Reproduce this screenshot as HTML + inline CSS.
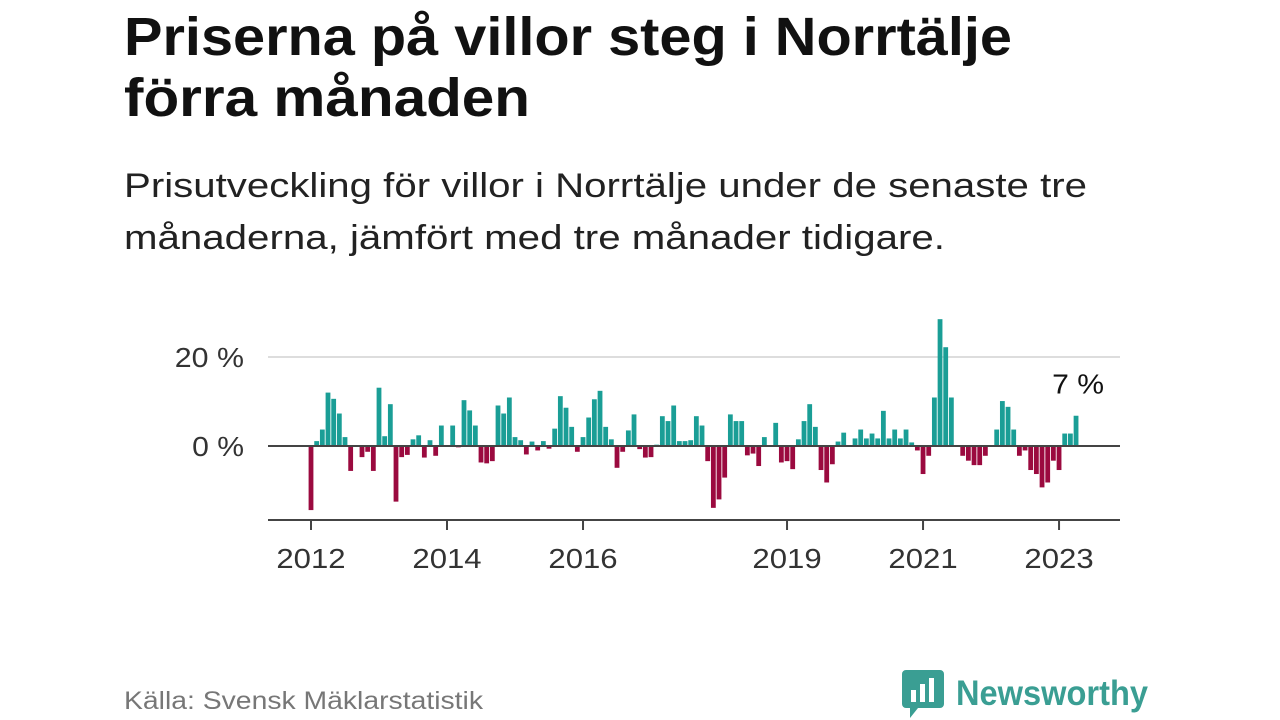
<!DOCTYPE html>
<html><head><meta charset="utf-8">
<style>
body{margin:0;width:1280px;height:720px;background:#fff;overflow:hidden;font-family:"Liberation Sans",sans-serif;position:relative}
.fit{position:absolute;left:124px;white-space:nowrap;transform-origin:0 0;line-height:1}
.t{font-size:54px;font-weight:bold;color:#111}
.s{font-size:34px;color:#222}
.src{font-size:25px;color:#777}
.logo{position:absolute;left:902px;top:670px;display:flex;align-items:center}
.logo span{font-size:35px;font-weight:bold;color:#3a9e93;margin-left:12px;display:inline-block;transform-origin:0 50%}
</style></head><body>
<div class="fit t" data-w="888" style="top:10px">Priserna på villor steg i Norrtälje</div>
<div class="fit t" data-w="406" style="top:71px">förra månaden</div>
<div class="fit s" data-w="963" style="top:169px">Prisutveckling för villor i Norrtälje under de senaste tre</div>
<div class="fit s" data-w="821" style="top:221px">månaderna, jämfört med tre månader tidigare.</div>
<svg id="chart" width="1280" height="720" style="position:absolute;left:0;top:0"></svg>
<div class="fit src" data-w="359" style="top:689px">Källa: Svensk Mäklarstatistik</div>
<div class="logo">
<svg width="42" height="48" viewBox="0 0 42 48"><path d="M4 0h34a4 4 0 0 1 4 4v30a4 4 0 0 1-4 4H16l-8 10v-10H4a4 4 0 0 1-4-4V4a4 4 0 0 1 4-4z" fill="#3a9e93"/><rect x="9" y="20" width="5" height="12" fill="#fff"/><rect x="18" y="14" width="5" height="18" fill="#fff"/><rect x="27" y="8" width="5" height="24" fill="#fff"/></svg>
<span id="nw">Newsworthy</span></div>
<script>
const values=[-14.4,1.1,3.7,12,10.6,7.3,2.0,-5.6,0,-2.5,-1.3,-5.6,13.1,2.2,9.4,-12.5,-2.5,-2.0,1.5,2.4,-2.6,1.3,-2.2,4.6,0,4.6,-0.3,10.3,8,4.6,-3.7,-3.9,-3.4,9.1,7.3,10.9,2.0,1.3,-1.9,1.0,-1.0,1.1,-0.6,3.9,11.2,8.6,4.3,-1.3,2.0,6.4,10.5,12.4,4.3,1.5,-4.9,-1.3,3.5,7.1,-0.7,-2.6,-2.5,0.3,6.7,5.6,9.1,1.1,1.1,1.3,6.7,4.6,-3.4,-13.9,-12,-7.1,7.1,5.6,5.6,-2.1,-1.7,-4.5,2.0,0,5.2,-3.7,-3.4,-5.2,1.5,5.6,9.4,4.3,-5.4,-8.2,-4.1,1.0,3.0,0,1.7,3.7,1.7,2.8,1.7,7.9,1.7,3.7,1.7,3.7,0.8,-1.0,-6.3,-2.2,10.9,28.5,22.2,10.9,0,-2.2,-3.3,-4.3,-4.3,-2.2,0,3.7,10.1,8.8,3.7,-2.2,-1.0,-5.4,-6.3,-9.3,-8.2,-3.3,-5.4,2.8,2.8,6.8];
const yTicks=[0,20];
const yTickLabels=["0 %","20 %"];
const xTickMonths=[0,24,48,84,108,132];
const xTickLabels=["2012","2014","2016","2019","2021","2023"];
const lastLabel="7 %";
document.querySelectorAll('.fit').forEach(el=>{const w=el.getBoundingClientRect().width;el.style.transform='scaleX('+(+el.dataset.w/w)+')';});
const nw=document.getElementById('nw');nw.style.transform='scaleX('+(192/nw.getBoundingClientRect().width)+')';
const svg=document.getElementById('chart');
const NS="http://www.w3.org/2000/svg";
const x=m=>311+m*5.667;
const y=v=>446-v*4.45;
function mk(tag,attrs){const e=document.createElementNS(NS,tag);for(const k in attrs)e.setAttribute(k,attrs[k]);svg.appendChild(e);return e;}
function txt(s,attrs){const e=mk('text',Object.assign({'font-size':28,'font-family':'Liberation Sans, sans-serif',fill:'#333'},attrs));e.textContent=s;e.setAttribute('textLength',s.length*17.3);e.setAttribute('lengthAdjust','spacingAndGlyphs');return e;}
yTicks.forEach((t,i)=>{
  if(t!==0){const g=mk('line',{x1:268,x2:1120,y1:y(t),y2:y(t),stroke:'#ddd','stroke-width':2});
  
  }
  const l=txt(yTickLabels[i],{x:244,y:y(t)+10,'text-anchor':'end'});
  
  
});
values.forEach((v,i)=>{
  const r=mk('rect',{x:x(i)-2.4,width:4.8,y:v>=0?y(v):y(0),height:Math.abs(y(v)-y(0)),fill:v>=0?'#1a9e96':'#9b0a3f'});
  
  
});
const z=mk('line',{x1:268,x2:1120,y1:y(0),y2:y(0),stroke:'#444','stroke-width':2});


const ax=mk('line',{x1:268,x2:1120,y1:520,y2:520,stroke:'#444','stroke-width':2});


xTickMonths.forEach((m,i)=>{
  const tk=mk('line',{x1:x(m),x2:x(m),y1:520,y2:530,stroke:'#444','stroke-width':2});
  
  
  const l=txt(xTickLabels[i],{x:x(m),y:568,'text-anchor':'middle'});
  
  
});
const li=values.length-1;
const ll=txt(lastLabel,{x:x(li)+2,y:y(values[li])-22,'text-anchor':'middle',fill:'#111'});


</script>
</body></html>
